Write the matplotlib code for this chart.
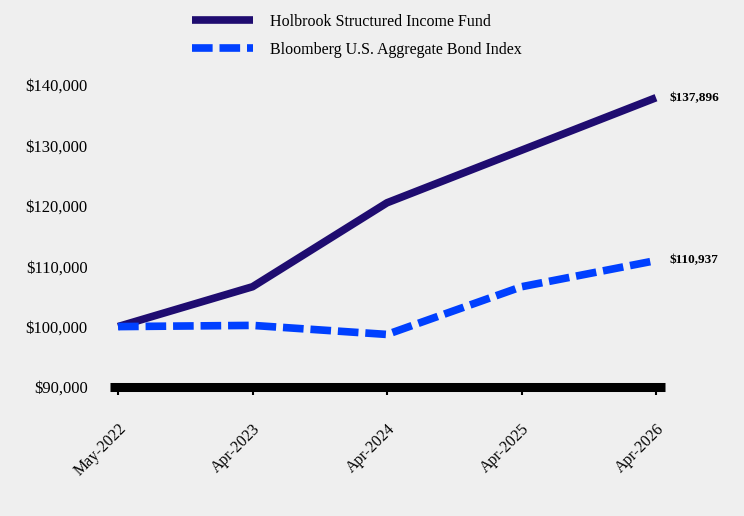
import matplotlib
matplotlib.use("Agg")
import matplotlib.pyplot as plt
from matplotlib.ticker import FuncFormatter

# data
periods = ["May-2022", "Apr-2023", "Apr-2024", "Apr-2025", "Apr-2026"]
fund = [100000, 106600, 120500, 129200, 137896]
index = [100000, 100200, 98700, 106600, 110937]
fund_name = "Holbrook Structured Income Fund"
index_name = "Bloomberg U.S. Aggregate Bond Index"

bg = "#efefef"
plt.rcParams["font.family"] = ["Liberation Serif", "DejaVu Serif"]

fig = plt.figure(figsize=(7.44, 5.16), dpi=100, facecolor=bg)
ax = fig.add_axes([110 / 744, 1 - 387 / 516, 555 / 744, 302 / 516], facecolor=bg)

x = list(range(len(periods)))
ax.plot(x, fund, color="#1f0c70", lw=5.5, solid_capstyle="butt", label=fund_name)
ax.plot(x, index, color="#0040ff", lw=5.5, dashes=(2.7, 0.9), dash_capstyle="butt",
        label=index_name)

# end labels
ax.annotate(f"${fund[-1]:,}", (x[-1], fund[-1]), xytext=(10, 0),
            textcoords="offset points", va="center", fontsize=9.5, fontweight="bold")
ax.annotate(f"${index[-1]:,}", (x[-1], index[-1]), xytext=(10, 0),
            textcoords="offset points", va="center", fontsize=9.5, fontweight="bold")

ax.set_xlim(-0.06, 4.067)
ax.set_ylim(90000, 140000)
ax.set_yticks(range(90000, 140001, 10000))
ax.yaxis.set_major_formatter(FuncFormatter(lambda v, p: f"${v:,.0f}"))
ax.set_xticks(x)
ax.set_xticklabels(periods, rotation=45, ha="right", rotation_mode="anchor")

for s in ["top", "right", "left"]:
    ax.spines[s].set_visible(False)
ax.spines["bottom"].set_linewidth(6.5)
ax.spines["bottom"].set_capstyle("butt")
ax.spines["bottom"].set_zorder(5)
ax.spines["bottom"].set_clip_on(False)
ax.tick_params(axis="y", length=0, labelsize=12, pad=16)
ax.tick_params(axis="x", length=5.5, width=1.5, labelsize=11.5, pad=19)

fig.legend(loc="upper left", bbox_to_anchor=(0.2495, 0.986), frameon=False,
           fontsize=11.5, handlelength=3.8, handletextpad=1.06, labelspacing=0.75,
           borderaxespad=0)

fig.savefig("out.png", dpi=100, facecolor=bg)
